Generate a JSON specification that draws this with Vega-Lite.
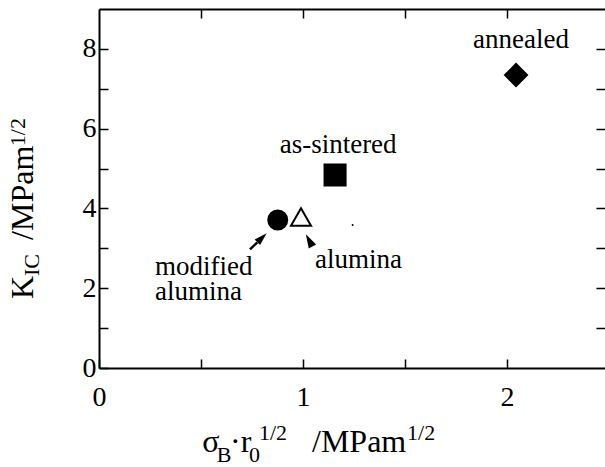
{
  "$schema": "https://vega.github.io/schema/vega-lite/v6.json",
  "width": 506,
  "height": 359,
  "autosize": {"type": "none"},
  "padding": {"left": 99, "top": 9, "right": 0, "bottom": 99},
  "background": "white",
  "config": {
    "view": {"stroke": null},
    "font": "Liberation Serif, Times New Roman, serif",
    "text": {"font": "Liberation Serif, Times New Roman, serif"},
    "axis": {
      "grid": false,
      "domainColor": "black",
      "domainWidth": 2,
      "tickColor": "black",
      "tickWidth": 1.5,
      "tickSize": -9,
      "labelColor": "black",
      "labelFont": "Liberation Serif, Times New Roman, serif",
      "labelFontSize": 28,
      "labelOverlap": false,
      "labelFlush": false,
      "title": null
    }
  },
  "resolve": {"axis": {"x": "independent", "y": "independent"}},
  "datasets": {
    "points": [
      {"sample": "modified alumina", "x": 0.876, "y": 3.71},
      {"sample": "alumina", "x": 0.99, "y": 3.785},
      {"sample": "as-sintered", "x": 1.157, "y": 4.84},
      {"sample": "annealed", "x": 2.044, "y": 7.345}
    ],
    "dot": [{"x": 1.243, "y": 3.585}],
    "arrowLine": [{"x": 0.74, "y": 2.975}, {"x": 0.776, "y": 3.15}],
    "heads": [
      {"arrow": "modified", "x": 0.799, "y": 3.264},
      {"arrow": "alumina", "x": 1.03, "y": 3.2}
    ],
    "labelsCentered": [
      {"text": "annealed", "x": 2.068, "y": 8.02},
      {"text": "as-sintered", "x": 1.172, "y": 5.4}
    ],
    "labelsLeft": [
      {"text": "modified", "x": 0.2745, "y": 2.33},
      {"text": "alumina", "x": 0.2745, "y": 1.7},
      {"text": "alumina", "x": 1.059, "y": 2.51}
    ],
    "xtitle": [
      {"text": "σ", "role": "main", "x": 0.506, "y": -2.1},
      {"text": "B", "role": "small", "x": 0.577, "y": -2.35},
      {"text": "·r", "role": "main", "x": 0.642, "y": -2.1},
      {"text": "0", "role": "small", "x": 0.735, "y": -2.35},
      {"text": "1/2", "role": "small", "x": 0.784, "y": -1.805},
      {"text": "/MPam", "role": "main", "x": 1.044, "y": -2.1},
      {"text": "1/2", "role": "small", "x": 1.51, "y": -1.805}
    ],
    "ytitle": [
      {"text": "K", "role": "main", "x": -0.3235, "y": 1.73},
      {"text": "IC", "role": "small", "x": -0.294, "y": 2.305},
      {"text": "/MPam", "role": "main", "x": -0.3235, "y": 3.21},
      {"text": "1/2", "role": "small", "x": -0.363, "y": 5.56}
    ]
  },
  "layer": [
    {
      "data": {"name": "points"},
      "mark": {"type": "point", "filled": true, "stroke": "black", "strokeWidth": 2, "opacity": 1},
      "encoding": {
        "x": {"field": "x", "type": "quantitative", "scale": {"domain": [0, 2.48], "nice": false, "zero": false},
          "axis": {"orient": "bottom", "values": [0, 0.5, 1, 1.5, 2], "labelExpr": "datum.value % 1 === 0 ? format(datum.value, 'd') : ''", "labelPadding": 24}},
        "y": {"field": "y", "type": "quantitative", "scale": {"domain": [0, 9], "nice": false, "zero": false},
          "axis": {"orient": "left", "values": [0, 1, 2, 3, 4, 5, 6, 7, 8], "labelExpr": "datum.value % 2 === 0 ? format(datum.value, 'd') : ''", "labelPadding": 12}},
        "shape": {"field": "sample", "type": "nominal", "legend": null,
          "scale": {"domain": ["modified alumina", "alumina", "as-sintered", "annealed"], "range": ["circle", "triangle-up", "square", "diamond"]}},
        "fill": {"field": "sample", "type": "nominal", "legend": null,
          "scale": {"domain": ["modified alumina", "alumina", "as-sintered", "annealed"], "range": ["black", "white", "black", "black"]}},
        "size": {"field": "sample", "type": "ordinal", "legend": null,
          "scale": {"domain": ["modified alumina", "alumina", "as-sintered", "annealed"], "range": [361, 484, 441, 900]}}
      }
    },
    {
      "data": {"name": "points"},
      "mark": {"type": "point", "opacity": 0},
      "encoding": {
        "x": {"field": "x", "type": "quantitative", "scale": {"domain": [0, 2.48], "nice": false, "zero": false},
          "axis": {"orient": "top", "values": [0.5, 1, 1.5, 2], "labels": false}},
        "y": {"field": "y", "type": "quantitative", "scale": {"domain": [0, 9], "nice": false, "zero": false},
          "axis": {"orient": "right", "values": [1, 2, 3, 4, 5, 6, 7, 8], "labels": false, "domain": false}}
      }
    },
    {
      "data": {"name": "dot"},
      "mark": {"type": "point", "filled": true, "shape": "circle", "size": 4, "color": "black", "opacity": 1},
      "encoding": {
        "x": {"field": "x", "type": "quantitative", "scale": {"domain": [0, 2.48], "nice": false, "zero": false}, "axis": null},
        "y": {"field": "y", "type": "quantitative", "scale": {"domain": [0, 9], "nice": false, "zero": false}, "axis": null}
      }
    },
    {
      "data": {"name": "arrowLine"},
      "mark": {"type": "line", "color": "black", "strokeWidth": 2.5},
      "encoding": {
        "x": {"field": "x", "type": "quantitative", "scale": {"domain": [0, 2.48], "nice": false, "zero": false}, "axis": null},
        "y": {"field": "y", "type": "quantitative", "scale": {"domain": [0, 9], "nice": false, "zero": false}, "axis": null}
      }
    },
    {
      "data": {"name": "heads"},
      "transform": [{"filter": "datum.arrow === 'modified'"}],
      "mark": {"type": "point", "filled": true, "shape": "M0,-1L-0.6,1L0.6,1Z", "size": 169, "angle": 46, "color": "black", "opacity": 1},
      "encoding": {
        "x": {"field": "x", "type": "quantitative", "scale": {"domain": [0, 2.48], "nice": false, "zero": false}, "axis": null},
        "y": {"field": "y", "type": "quantitative", "scale": {"domain": [0, 9], "nice": false, "zero": false}, "axis": null}
      }
    },
    {
      "data": {"name": "heads"},
      "transform": [{"filter": "datum.arrow === 'alumina'"}],
      "mark": {"type": "point", "filled": true, "shape": "M0,-1L-0.6,1L0.6,1Z", "size": 196, "angle": 332, "color": "black", "opacity": 1},
      "encoding": {
        "x": {"field": "x", "type": "quantitative", "scale": {"domain": [0, 2.48], "nice": false, "zero": false}, "axis": null},
        "y": {"field": "y", "type": "quantitative", "scale": {"domain": [0, 9], "nice": false, "zero": false}, "axis": null}
      }
    },
    {
      "data": {"name": "labelsCentered"},
      "mark": {"type": "text", "align": "center", "baseline": "alphabetic", "fontSize": 27, "color": "black"},
      "encoding": {
        "x": {"field": "x", "type": "quantitative", "scale": {"domain": [0, 2.48], "nice": false, "zero": false}, "axis": null},
        "y": {"field": "y", "type": "quantitative", "scale": {"domain": [0, 9], "nice": false, "zero": false}, "axis": null},
        "text": {"field": "text"}
      }
    },
    {
      "data": {"name": "labelsLeft"},
      "mark": {"type": "text", "align": "left", "baseline": "alphabetic", "fontSize": 27, "color": "black"},
      "encoding": {
        "x": {"field": "x", "type": "quantitative", "scale": {"domain": [0, 2.48], "nice": false, "zero": false}, "axis": null},
        "y": {"field": "y", "type": "quantitative", "scale": {"domain": [0, 9], "nice": false, "zero": false}, "axis": null},
        "text": {"field": "text"}
      }
    },
    {
      "data": {"name": "xtitle"},
      "transform": [{"filter": "datum.role === 'main'"}],
      "mark": {"type": "text", "align": "left", "baseline": "alphabetic", "fontSize": 32, "color": "black"},
      "encoding": {
        "x": {"field": "x", "type": "quantitative", "scale": {"domain": [0, 2.48], "nice": false, "zero": false}, "axis": null},
        "y": {"field": "y", "type": "quantitative", "scale": {"domain": [0, 9], "nice": false, "zero": false}, "axis": null},
        "text": {"field": "text"}
      }
    },
    {
      "data": {"name": "xtitle"},
      "transform": [{"filter": "datum.role === 'small'"}],
      "mark": {"type": "text", "align": "left", "baseline": "alphabetic", "fontSize": 22, "color": "black"},
      "encoding": {
        "x": {"field": "x", "type": "quantitative", "scale": {"domain": [0, 2.48], "nice": false, "zero": false}, "axis": null},
        "y": {"field": "y", "type": "quantitative", "scale": {"domain": [0, 9], "nice": false, "zero": false}, "axis": null},
        "text": {"field": "text"}
      }
    },
    {
      "data": {"name": "ytitle"},
      "transform": [{"filter": "datum.role === 'main'"}],
      "mark": {"type": "text", "align": "left", "baseline": "alphabetic", "angle": 270, "fontSize": 32, "color": "black"},
      "encoding": {
        "x": {"field": "x", "type": "quantitative", "scale": {"domain": [0, 2.48], "nice": false, "zero": false}, "axis": null},
        "y": {"field": "y", "type": "quantitative", "scale": {"domain": [0, 9], "nice": false, "zero": false}, "axis": null},
        "text": {"field": "text"}
      }
    },
    {
      "data": {"name": "ytitle"},
      "transform": [{"filter": "datum.role === 'small'"}],
      "mark": {"type": "text", "align": "left", "baseline": "alphabetic", "angle": 270, "fontSize": 22, "color": "black"},
      "encoding": {
        "x": {"field": "x", "type": "quantitative", "scale": {"domain": [0, 2.48], "nice": false, "zero": false}, "axis": null},
        "y": {"field": "y", "type": "quantitative", "scale": {"domain": [0, 9], "nice": false, "zero": false}, "axis": null},
        "text": {"field": "text"}
      }
    }
  ]
}
